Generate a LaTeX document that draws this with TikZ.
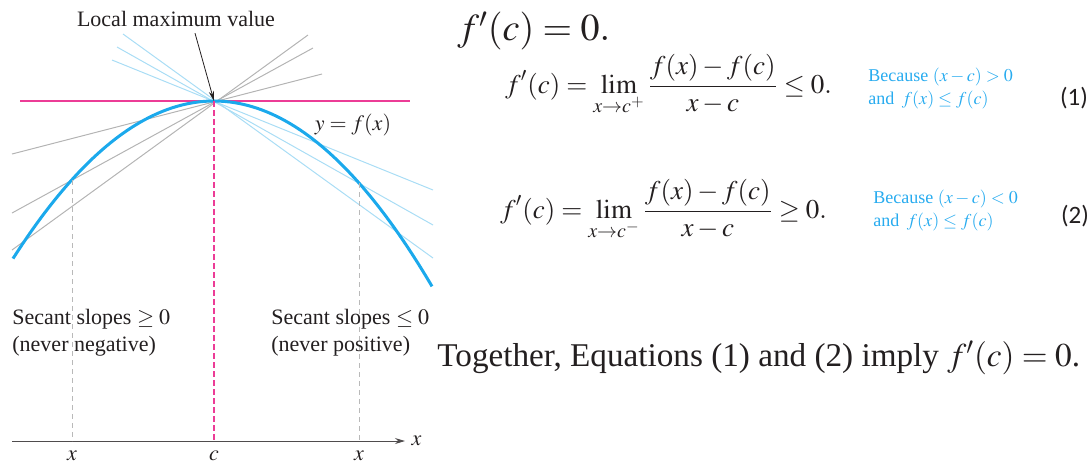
\documentclass[tikz,border=0pt]{standalone}
\usepackage[no-math]{fontspec}
\usepackage{mathptmx}
\setmainfont{Liberation Serif}
\newfontfamily\numfont{Carlito}
\usepackage{xcolor}
\usetikzlibrary{arrows.meta,positioning}
\definecolor{ink}{HTML}{231F20}
\definecolor{fblue}{HTML}{1BA9EC}
\definecolor{lightsec}{HTML}{A9DDF5}
\definecolor{graysec}{HTML}{B4B4B4}
\definecolor{hot}{HTML}{EC3C96}
\definecolor{note}{HTML}{27ABEF}
\tikzset{
  >=Latex,
  every node/.style={text=ink,inner sep=0pt},
  curve/.style={draw=fblue,line width=1.5pt},
  secant/.style={draw=graysec,line width=0.5pt},
  secantb/.style={draw=lightsec,line width=0.5pt},
  tangent/.style={draw=hot,line width=0.7pt},
  drop/.style={draw=hot,dash pattern=on 3pt off 1.5pt,line width=0.7pt},
  guide/.style={draw=gray!55,dash pattern=on 2.5pt off 2pt,line width=0.4pt},
  axis/.style={-{Stealth[length=5pt,width=3pt]},draw=ink!80,line width=0.5pt},
  label/.style={font=\fontsize{11}{13.5}\selectfont,align=left},
  tick/.style={font=\fontsize{11}{13}\selectfont},
  bigeq/.style={font=\fontsize{19}{22}\selectfont},
  eq/.style={font=\fontsize{13.5}{16}\selectfont},
  why/.style={font=\fontsize{9}{11.5}\selectfont,text=note,align=left},
  eqno/.style={font=\numfont\fontsize{12.5}{15}\selectfont},
}

\begin{document}
\begin{tikzpicture}[x=0.5pt,y=-0.5pt]
  \useasboundingbox (0,0) rectangle (1092,463);
  \coordinate (peak) at (214,101);

  % secants through the maximum
  \draw[secant] (12,154) -- (322,74);
  \draw[secant] (12,213) -- (313,48);
  \draw[secant] (12,250) -- (308,35);
  \draw[secantb] (112,60) -- (433,190);
  \draw[secantb] (117,47) -- (433,225);
  \draw[secantb] (123,34) -- (433,258);

  \draw[tangent] (20,101) -- (410,101);
  \draw[curve] plot[domain=-201:218,samples=90] ({214+\x},{101+39*(\x/100)^2});

  % axis and guides
  \coordinate (o) at (12,441);
  \coordinate (xend) at (405,441);
  \draw[axis] (o) -- (xend) node[right=3pt,tick] (xlab) {$x$};
  \coordinate (pl) at (72,180);
  \coordinate (pr) at (359,183);
  \draw[guide] (pl) -- (pl |- o);
  \draw[guide] (pr) -- (pr |- o);
  \draw[drop] (peak) -- (peak |- o);
  \node[tick] (tl) at (72,456) {$x$};
  \node[tick] (tc) at (214,456) {$c$};
  \node[tick] (tr) at (359,456) {$x$};

  \node[label] (lmv) at (176,19) {Local maximum value};
  \draw[-{Stealth[length=5pt,width=2.6pt]},draw=ink,line width=0.4pt] ([xshift=9.5pt,yshift=-3pt]lmv.south) -- (peak);
  \node[label] (yfx) at (353,125) {$y = f(x)$};
  \node[label,anchor=west] (lsec) at (12,333) {Secant slopes $\geq 0$\\(never negative)};
  \node[label,anchor=west] (rsec) at (271,333) {Secant slopes $\leq 0$\\(never positive)};

  % the argument
  \node[bigeq,anchor=west] (zero) at (457,31) {$f'(c) = 0.$};
  \node[eq,anchor=base west] (eqone) at (505,93) {$\displaystyle f'(c) = \lim_{x\to c^+}\frac{f(x) - f(c)}{x - c} \leq 0.$};
  \node[why,anchor=west] (whyone) at (868,88) {Because $(x - c) > 0$\\and\, $f(x) \leq f(c)$};
  \node[eqno] (numone) at (1074,98) {(1)};
  \node[eq,anchor=base west] (eqtwo) at (500,218) {$\displaystyle f'(c) = \lim_{x\to c^-}\frac{f(x) - f(c)}{x - c} \geq 0.$};
  \node[why,anchor=west] (whytwo) at (873,210) {Because $(x - c) < 0$\\and\, $f(x) \leq f(c)$};
  \node[eqno] (numtwo) at (1075,216) {(2)};
  \node[font=\fontsize{16.6}{20}\selectfont,anchor=west] (together) at (437,358) {Together, Equations (1) and (2) imply $f'(c) = 0$.};
\end{tikzpicture}
\end{document}
